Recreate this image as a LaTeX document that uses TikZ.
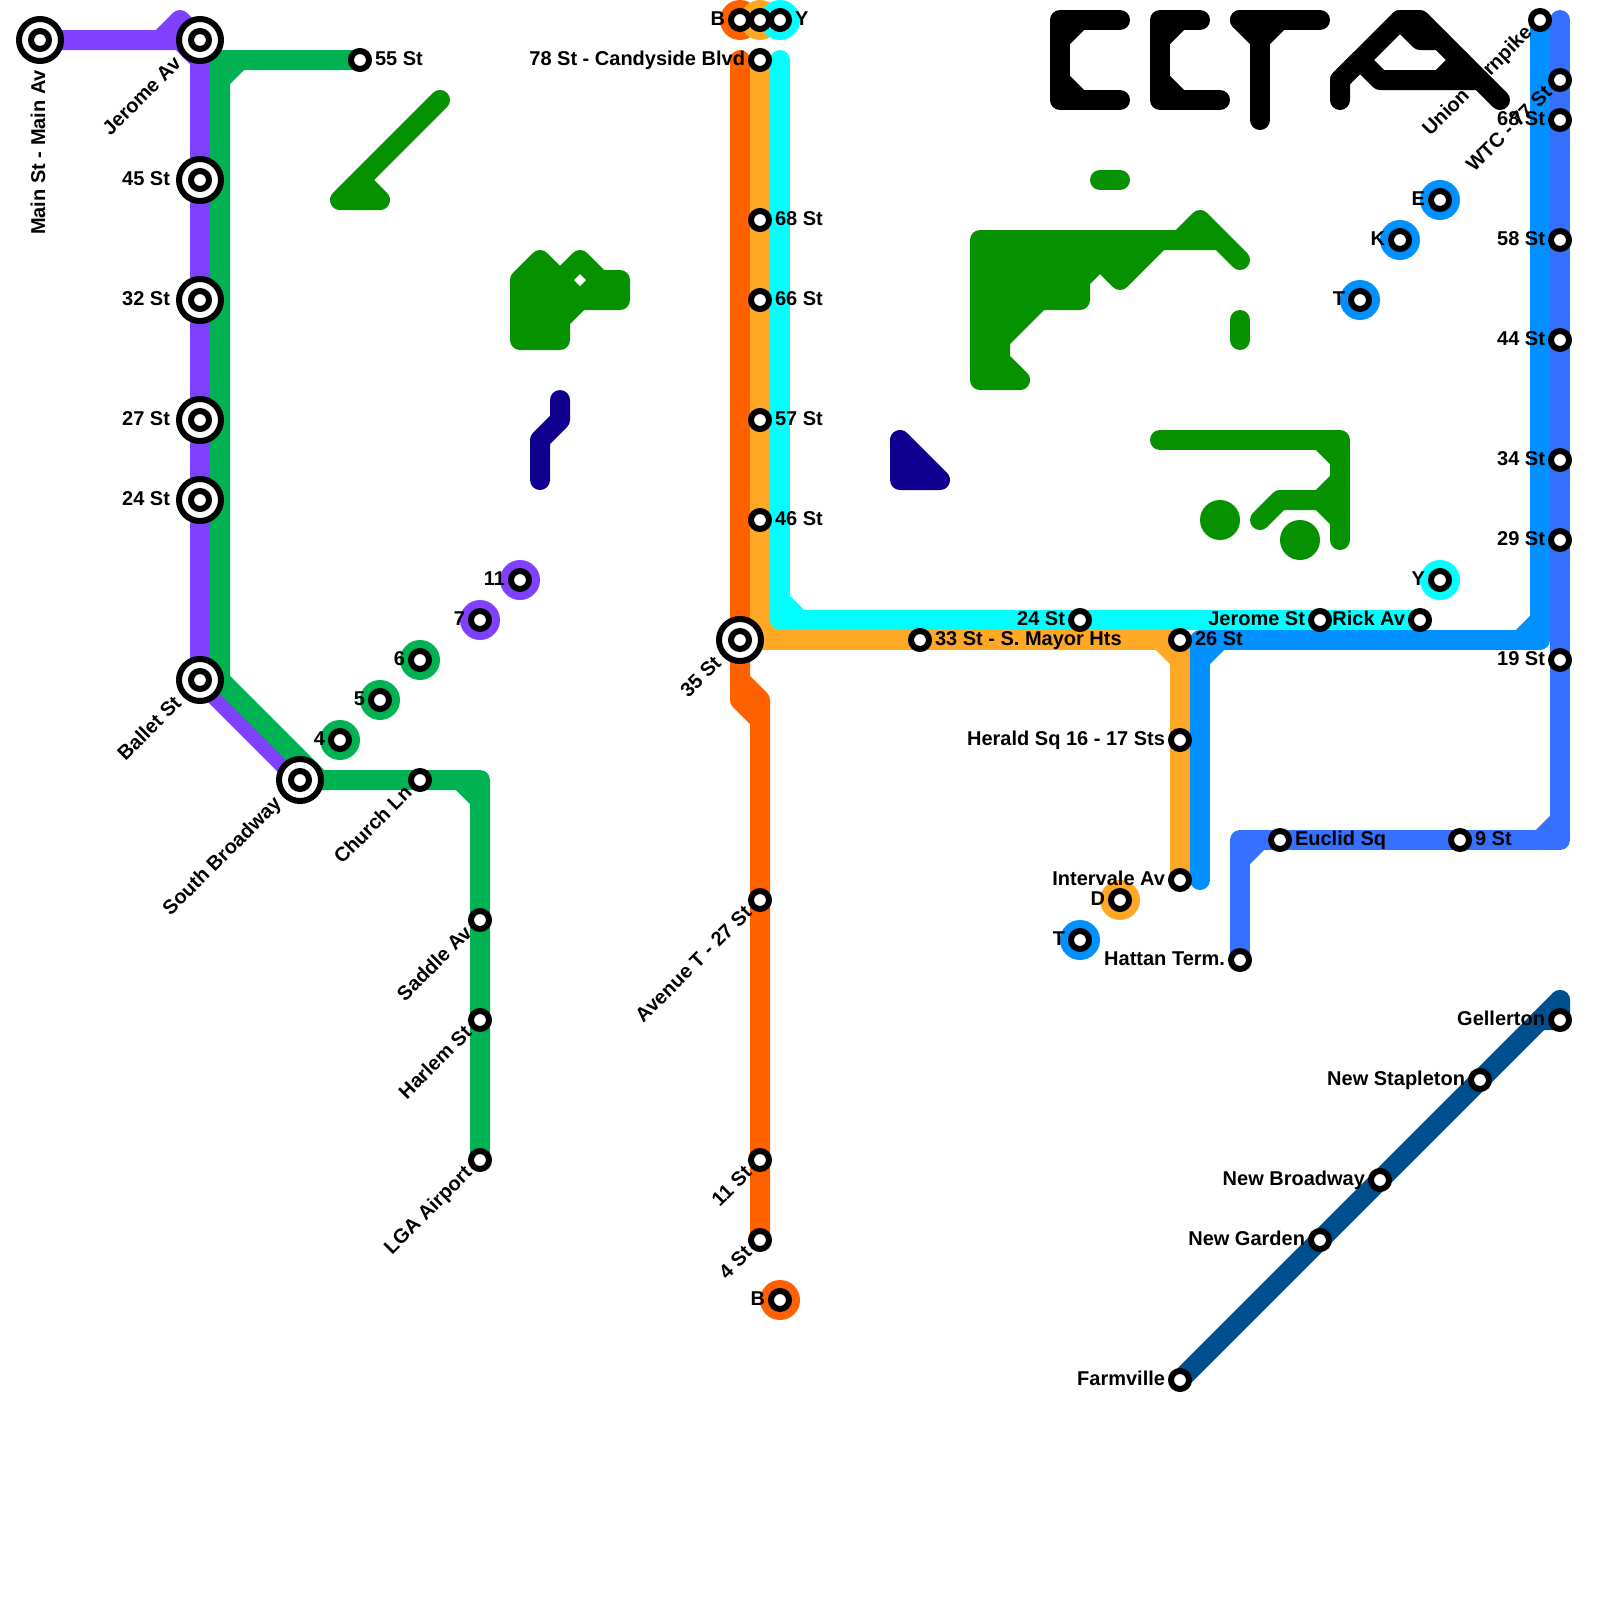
\documentclass[tikz,border=0pt]{standalone}
\usepackage{fontspec}
\setmainfont{Liberation Sans}
\usetikzlibrary{backgrounds}

\definecolor{purpleln}{HTML}{8040FF}
\definecolor{greenln}{HTML}{00B251}
\definecolor{orangeln}{HTML}{FF6000}
\definecolor{amberln}{HTML}{FFA826}
\definecolor{cyanln}{HTML}{00FFFF}
\definecolor{blueln}{HTML}{0090FF}
\definecolor{royalln}{HTML}{3670FF}
\definecolor{navyln}{HTML}{005090}
\definecolor{forest}{HTML}{059100}
\definecolor{indigoln}{HTML}{100090}

\tikzset{
  route/.style={draw=#1, line width=15pt, line cap=round, line join=round},
  blob/.style={route=#1, fill=#1},
  stn/.style={circle, draw=black, fill=white, line width=4.5pt, minimum size=13.5pt, inner sep=0pt, outer sep=0pt},
  hub/.style={stn, minimum size=31.5pt,
    path picture={\draw[line width=4.5pt, fill=white] (path picture bounding box.center) circle (6.75pt);}},
  disc/.style={circle, fill=#1, minimum size=30pt, inner sep=0pt, outer sep=0pt},
  lbl/.style={font=\fontsize{15pt}{15pt}\selectfont\bfseries, inner sep=0pt, outer sep=0pt, text=black},
  lblE/.style={lbl, anchor=base west, xshift=11.25pt, yshift=-3.75pt},
  lblW/.style={lbl, anchor=base east, xshift=-11.25pt, yshift=-3.75pt},
  lblH/.style={lbl, anchor=base east, xshift=-22.5pt, yshift=-3.75pt}
}

\begin{document}
\begin{tikzpicture}[x=0.75pt,y=-0.75pt]
\useasboundingbox (0,0) rectangle (1600,1600);

% end discs
\node[disc=orangeln] (dB) at (740,20) {};
\node[disc=amberln] (dD) at (760,20) {};
\node[disc=cyanln] (dY) at (780,20) {};
\node[disc=greenln] (d4) at (340,740) {};
\node[disc=greenln] (d5) at (380,700) {};
\node[disc=greenln] (d6) at (420,660) {};
\node[disc=purpleln] (d7) at (480,620) {};
\node[disc=purpleln] (d11) at (520,580) {};
\node[disc=orangeln] (dBs) at (780,1300) {};
\node[disc=amberln] (dDs) at (1120,900) {};
\node[disc=blueln] (dTs) at (1080,940) {};
\node[disc=blueln] (dE) at (1440,200) {};
\node[disc=blueln] (dK) at (1400,240) {};
\node[disc=blueln] (dT) at (1360,300) {};
\node[disc=cyanln] (dYs) at (1440,580) {};

% stations
\node[hub] (mainst) at (40,40) {};
\node[hub] (jeromeav) at (200,40) {};
\node[hub] (st45) at (200,180) {};
\node[hub] (st32) at (200,300) {};
\node[hub] (st27) at (200,420) {};
\node[hub] (st24) at (200,500) {};
\node[hub] (ballet) at (200,680) {};
\node[hub] (sbway) at (300,780) {};
\node[hub] (st35) at (740,640) {};

\node[stn] (st55) at (360,60) {};
\node[stn] (church) at (420,780) {};
\node[stn] (saddle) at (480,920) {};
\node[stn] (harlem) at (480,1020) {};
\node[stn] (lga) at (480,1160) {};
\node[stn] (s4) at (340,740) {};
\node[stn] (s5) at (380,700) {};
\node[stn] (s6) at (420,660) {};
\node[stn] (s7) at (480,620) {};
\node[stn] (s11) at (520,580) {};

\node[stn] (sB) at (740,20) {};
\node[stn] (sD) at (760,20) {};
\node[stn] (sY) at (780,20) {};
\node[stn] (st78) at (760,60) {};
\node[stn] (st68) at (760,220) {};
\node[stn] (st66) at (760,300) {};
\node[stn] (st57) at (760,420) {};
\node[stn] (st46) at (760,520) {};
\node[stn] (avet) at (760,900) {};
\node[stn] (st11) at (760,1160) {};
\node[stn] (st4) at (760,1240) {};
\node[stn] (sBs) at (780,1300) {};

\node[stn] (st33) at (920,640) {};
\node[stn] (sq24) at (1080,620) {};
\node[stn] (st26) at (1180,640) {};
\node[stn] (herald) at (1180,740) {};
\node[stn] (intervale) at (1180,880) {};
\node[stn] (sDs) at (1120,900) {};
\node[stn] (sTs) at (1080,940) {};
\node[stn] (hattan) at (1240,960) {};
\node[stn] (euclid) at (1280,840) {};
\node[stn] (st9) at (1460,840) {};
\node[stn] (jeromest) at (1320,620) {};
\node[stn] (rick) at (1420,620) {};
\node[stn] (sYs) at (1440,580) {};
\node[stn] (sT) at (1360,300) {};
\node[stn] (sK) at (1400,240) {};
\node[stn] (sE) at (1440,200) {};

\node[stn] (union) at (1540,20) {};
\node[stn] (wtc) at (1560,80) {};
\node[stn] (rt68) at (1560,120) {};
\node[stn] (rt58) at (1560,240) {};
\node[stn] (rt44) at (1560,340) {};
\node[stn] (rt34) at (1560,460) {};
\node[stn] (rt29) at (1560,540) {};
\node[stn] (rt19) at (1560,660) {};

\node[stn] (gellerton) at (1560,1020) {};
\node[stn] (stapleton) at (1480,1080) {};
\node[stn] (nbway) at (1380,1180) {};
\node[stn] (garden) at (1320,1240) {};
\node[stn] (farmville) at (1180,1380) {};

% lines
\begin{scope}[on background layer]
\draw[route=purpleln] (mainst.center) -- (180,40) -- (200,60) -- (ballet.center) -- (sbway.center);
\draw[route=purpleln] (160,40) -- (180,20) -- (jeromeav.center);
\draw[route=greenln] (st55.center) -- (220,60) -- (220,680) -- (320,780) -- (480,780) -- (lga.center);
\draw[route=greenln] (220,80) -- (240,60) (460,780) -- (480,800) (sbway.center) -- (320,780);
\draw[route=orangeln] (740,60) -- (740,700) -- (760,720) -- (st4.center);
\draw[route=orangeln] (740,680) -- (760,700) -- (760,720);
\draw[route=amberln] (st78.center) -- (760,640) -- (1180,640) -- (intervale.center);
\draw[route=amberln] (760,620) -- (780,640) (1160,640) -- (1180,660);
\draw[route=cyanln] (780,60) -- (780,620) -- (rick.center);
\draw[route=cyanln] (780,600) -- (800,620);
\draw[route=blueln] (1200,880) -- (1200,640) -- (1540,640) -- (union.center);
\draw[route=blueln] (1200,660) -- (1220,640) (1520,640) -- (1540,620);
\draw[route=royalln] (1560,20) -- (1560,840) -- (1240,840) -- (hattan.center);
\draw[route=royalln] (1540,840) -- (1560,820) (1240,860) -- (1260,840);
\draw[route=navyln] (farmville.center) -- (1540,1020) -- (gellerton.center) -- (1560,1000);
\draw[route=navyln] (1540,1020) -- (1560,1000);
\end{scope}

% labels
\node[rotate=90,lblH] (lmain) at (mainst) {Main St - Main Av};
\node[rotate=45,lblH] (ljerome) at (jeromeav) {Jerome Av};
\node[lblH] (l45) at (st45) {45 St};
\node[lblH] (l32) at (st32) {32 St};
\node[lblH] (l27) at (st27) {27 St};
\node[lblH] (l24) at (st24) {24 St};
\node[rotate=45,lblH] (lballet) at (ballet) {Ballet St};
\node[rotate=45,lblH] (lsbway) at (sbway) {South Broadway};
\node[rotate=45,lblH] (l35) at (st35) {35 St};

\node[lblE] (l55) at (st55) {55 St};
\node[rotate=45,lblW] (lchurch) at (church) {Church Ln};
\node[rotate=45,lblW] (lsaddle) at (saddle) {Saddle Av};
\node[rotate=45,lblW] (lharlem) at (harlem) {Harlem St};
\node[rotate=45,lblW] (llga) at (lga) {LGA Airport};
\node[lblW] (l4) at (s4) {4};
\node[lblW] (l5) at (s5) {5};
\node[lblW] (l6) at (s6) {6};
\node[lblW] (l7) at (s7) {7};
\node[lblW] (l11) at (s11) {11};

\node[lblW] (lB) at (sB) {B};
\node[lblE] (lY) at (sY) {Y};
\node[lblW] (l78) at (st78) {78 St - Candyside Blvd};
\node[lblE] (l68) at (st68) {68 St};
\node[lblE] (l66) at (st66) {66 St};
\node[lblE] (l57) at (st57) {57 St};
\node[lblE] (l46) at (st46) {46 St};
\node[rotate=45,lblW] (lavet) at (avet) {Avenue T - 27 St};
\node[rotate=45,lblW] (l11s) at (st11) {11 St};
\node[rotate=45,lblW] (l4s) at (st4) {4 St};
\node[lblW] (lBs) at (sBs) {B};

\node[lblE] (l33) at (st33) {33 St - S. Mayor Hts};
\node[lblW] (lsq24) at (sq24) {24 St};
\node[lblE] (l26) at (st26) {26 St};
\node[lblW] (lherald) at (herald) {Herald Sq 16 - 17 Sts};
\node[lblW] (lintervale) at (intervale) {Intervale Av};
\node[lblW] (lDs) at (sDs) {D};
\node[lblW] (lTs) at (sTs) {T};
\node[lblW] (lhattan) at (hattan) {Hattan Term.};
\node[lblE] (leuclid) at (euclid) {Euclid Sq};
\node[lblE] (l9) at (st9) {9 St};
\node[lblW] (ljeromest) at (jeromest) {Jerome St};
\node[lblW] (lrick) at (rick) {Rick Av};
\node[lblW] (lYs) at (sYs) {Y};
\node[lblW] (lT) at (sT) {T};
\node[lblW] (lK) at (sK) {K};
\node[lblW] (lE) at (sE) {E};

\node[rotate=45,lblW] (lunion) at (union) {Union Turnpike};
\node[rotate=45,lblW] (lwtc) at (wtc) {WTC - 77 St};
\node[lblW] (lrt68) at (rt68) {68 St};
\node[lblW] (lrt58) at (rt58) {58 St};
\node[lblW] (lrt44) at (rt44) {44 St};
\node[lblW] (lrt34) at (rt34) {34 St};
\node[lblW] (lrt29) at (rt29) {29 St};
\node[lblW] (lrt19) at (rt19) {19 St};

\node[lblW] (lgellerton) at (gellerton) {Gellerton};
\node[lblW] (lstapleton) at (stapleton) {New Stapleton};
\node[lblW] (lnbway) at (nbway) {New Broadway};
\node[lblW] (lgarden) at (garden) {New Garden};
\node[lblW] (lfarmville) at (farmville) {Farmville};

% green shapes
\draw[route=forest] (440,100) -- (340,200) -- (380,200) -- (360,180);
\draw[blob=forest] (520,280) -- (540,260) -- (560,280) -- (580,260) -- (600,280) -- (620,280) -- (620,300) -- (580,300) -- (560,320) -- (560,340) -- (520,340) -- cycle;
\fill[white] (580,274) -- (586,280) -- (580,286) -- (574,280) -- cycle;
\draw[blob=forest] (980,240) -- (1180,240) -- (1200,220) -- (1240,260) -- (1220,240) -- (1160,240) -- (1120,280) -- (1100,260) -- (1080,280) -- (1080,300) -- (1040,300) -- (1000,340) -- (1000,360) -- (1020,380) -- (980,380) -- cycle;
\draw[route=forest] (1100,180) -- (1120,180);
\draw[route=forest] (1240,320) -- (1240,340);
\draw[route=forest] (1160,440) -- (1340,440) -- (1340,540);
\draw[route=forest] (1320,440) -- (1340,460) (1340,480) -- (1320,500) (1320,500) -- (1340,520);
\draw[route=forest] (1260,520) -- (1280,500) -- (1320,500);
\fill[forest] (1220,520) circle (15pt);
\fill[forest] (1300,540) circle (15pt);

% indigo shapes
\draw[route=indigoln] (560,400) -- (560,420) -- (540,440) -- (540,480);
\draw[blob=indigoln] (900,440) -- (900,480) -- (940,480) -- cycle;

% logo letters
\draw[route=black] (1120,20) -- (1060,20) -- (1060,100) -- (1120,100);
\draw[route=black] (1080,20) -- (1060,40) (1060,80) -- (1080,100);
\draw[route=black] (1200,20) -- (1160,20) -- (1160,100) -- (1220,100);
\draw[route=black] (1180,20) -- (1160,40) (1160,80) -- (1180,100);
\draw[route=black] (1240,20) -- (1320,20) (1260,20) -- (1260,120);
\draw[route=black] (1240,20) -- (1260,40) (1280,20) -- (1260,40);
\draw[route=black] (1340,100) -- (1340,80) -- (1400,20) -- (1420,20) -- (1500,100);
\draw[route=black] (1340,80) -- (1360,60) -- (1380,80) -- (1480,80);
\draw[route=black] (1400,20) -- (1420,40) -- (1440,40) (1440,80) -- (1460,60);
\end{tikzpicture}
\end{document}
